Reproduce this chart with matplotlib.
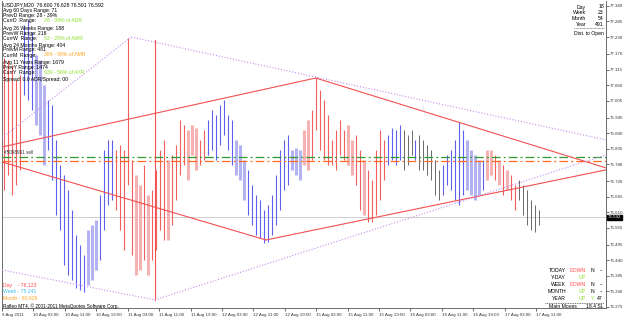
import matplotlib
matplotlib.use("Agg")
import matplotlib.pyplot as plt
import numpy as np

W, H = 625, 319
plt.rcParams['font.family'] = ['Liberation Sans', 'DejaVu Sans']

# ---------------- data ----------------
hours = np.linspace(0.6, 136.8, 135)   # trading hours since 9 Aug 2011 19:00 (chart time)

highs = [77.156, 77.149, 77.131, 77.078, 77.096, 77.273, 77.290, 77.248, 77.166, 77.149,
         77.060, 77.007, 76.990, 76.866, 76.777, 76.742, 76.689, 76.618, 76.530, 76.494,
         76.459, 76.547, 76.565, 76.583, 76.671, 76.830, 76.866, 76.866, 76.830, 76.848,
         76.830, 77.227, 76.795, 76.742, 76.706, 76.777, 76.671, 76.689, 76.760, 76.830,
         76.866, 76.795, 76.813, 76.848, 76.936, 76.919, 76.901, 76.919, 76.908, 76.866,
         76.901, 76.936, 76.972, 76.954, 76.990, 77.007, 76.954, 76.936, 76.866, 76.848,
         76.795, 76.760, 76.706, 76.671, 76.653, 76.618, 76.636, 76.671, 76.742, 76.830,
         76.866, 76.883, 76.830, 76.837, 76.830, 76.901, 76.936, 76.972, 77.085, 77.043,
         77.007, 76.954, 76.866, 76.901, 76.936, 76.901, 76.919, 76.866, 76.883, 76.830,
         76.795, 76.760, 76.724, 76.830, 76.901, 76.866, 76.883, 76.908, 76.901, 76.919,
         76.901, 76.883, 76.901, 76.866, 76.883, 76.866, 76.848, 76.830, 76.795, 76.760,
         76.777, 76.813, 76.830, 76.866, 76.929, 76.901, 76.866, 76.830, 76.813, 76.795,
         76.795, 76.830, 76.830, 76.813, 76.795, 76.777, 76.760, 76.742, 76.706, 76.724,
         76.706, 76.689, 76.653, 76.636, 76.618]

lows = [76.689, 76.742, 76.671, 76.706, 76.760, 77.025, 77.007, 76.972, 76.919, 76.883,
        76.777, 76.830, 76.724, 76.600, 76.547, 76.423, 76.388, 76.370, 76.342, 76.335,
        76.328, 76.353, 76.370, 76.406, 76.441, 76.547, 76.636, 76.653, 76.618, 76.547,
        76.476, 76.706, 76.459, 76.388, 76.406, 76.441, 76.388, 76.441, 76.476, 76.547,
        76.512, 76.512, 76.565, 76.653, 76.742, 76.777, 76.724, 76.813, 76.760, 76.777,
        76.795, 76.813, 76.830, 76.795, 76.848, 76.883, 76.830, 76.777, 76.742, 76.724,
        76.653, 76.600, 76.565, 76.530, 76.519, 76.501, 76.505, 76.530, 76.565, 76.618,
        76.689, 76.706, 76.760, 76.742, 76.724, 76.777, 76.760, 76.795, 76.901, 76.830,
        76.795, 76.777, 76.777, 76.760, 76.813, 76.795, 76.777, 76.742, 76.706, 76.618,
        76.600, 76.576, 76.576, 76.600, 76.653, 76.724, 76.777, 76.795, 76.777, 76.795,
        76.760, 76.777, 76.813, 76.795, 76.760, 76.760, 76.742, 76.724, 76.671, 76.653,
        76.671, 76.706, 76.689, 76.653, 76.636, 76.671, 76.689, 76.671, 76.653, 76.671,
        76.689, 76.724, 76.742, 76.724, 76.706, 76.671, 76.689, 76.653, 76.618, 76.653,
        76.600, 76.565, 76.547, 76.540, 76.565]

trend = ("r r r r r b b b lb lb "
         "lb b b b b b b b b b "
         "b lb lb lb b b b b r r "
         "r r r p p r p r r r "
         "r p r r r r p p p r "
         "r b b b b b b b lb lb "
         "lb b b b b b b b b b "
         "b b lb lb lb p p r r r "
         "r r r r r r p p r r "
         "p r r r r r b b b b "
         "k k k b k k k k k k "
         "b b b b b b lb lb lb lb "
         "b p p r p r p r r k "
         "k k k k k").split()

# trend lines (hour, price)
red_lines = [((0.0, 76.841), (79.9, 77.085)),
             ((79.9, 77.085), (153.8, 76.767)),
             ((0.0, 76.788), (67.2, 76.512)),
             ((67.2, 76.512), (153.8, 76.760))]
red_vertical = (38.9, 76.300, 77.220)
purple_lines = [((0.0, 76.873), (32.9, 77.230)),
                ((32.9, 77.230), (153.8, 76.866)),
                ((0.0, 76.406), (38.9, 76.300)),
                ((38.9, 76.300), (153.8, 76.813))]
order_green = 76.806
order_orange = 76.791
bid = 76.592

xtick_hours = list(range(0, 137, 8))
xtick_labels = ["9 Aug 2011", "10 Aug 03:00", "10 Aug 11:00", "10 Aug 19:00", "11 Aug 03:00",
                "11 Aug 11:00", "11 Aug 19:00", "12 Aug 03:00", "12 Aug 11:00", "12 Aug 19:00",
                "15 Aug 03:00", "15 Aug 11:00", "15 Aug 19:00", "16 Aug 03:00", "16 Aug 11:00",
                "16 Aug 19:00", "17 Aug 03:00", "17 Aug 11:00"]
ytick_labels = ["77.340", "77.285", "77.230", "77.170", "77.115", "77.060", "77.005", "76.945",
                "76.890", "76.835", "76.780", "76.720", "76.665", "76.610", "76.555", "76.495",
                "76.440", "76.385", "76.330", "76.275"]

assert len(highs) == len(lows) == len(trend) == len(hours)

# ---------------- figure ----------------
fig = plt.figure(figsize=(W / 100, H / 100), dpi=100)
fig.patch.set_facecolor('white')
ax = fig.add_axes([2 / W, 11 / H, 604 / W, 307 / H])
ax.set_xlim(0.38, 153.8)
ax.set_ylim(76.2713, 77.3575)

cmap = {'r': '#f35d5d', 'p': '#f6b2b2', 'b': '#5f5ff0', 'lb': '#b3b3f2', 'k': '#6a6a6a'}
wmap = {'r': 0.8, 'p': 2.2, 'b': 0.8, 'lb': 2.2, 'k': 0.7}
hours_a = np.asarray(hours)
hi = np.asarray(highs); lo = np.asarray(lows)
for group in [('p', 'lb'), ('r', 'b', 'k')]:
    for c in group:
        m = np.array([t == c for t in trend])
        if m.any():
            ax.vlines(hours_a[m], lo[m], hi[m], colors=cmap[c], linewidths=wmap[c], zorder=2)

# horizontal lines
ax.axhline(bid, color='#c8c8c8', lw=0.6, zorder=1)
ax.axhline(order_green, color='#2f9a2f', lw=0.9, ls=(0, (7, 2.5, 1.5, 2.5)), zorder=3)
ax.axhline(order_orange, color='#ff6a20', lw=0.9, ls=(0, (7, 2.5, 1.5, 2.5)), zorder=3)

for (x0, y0), (x1, y1) in red_lines:
    ax.plot([x0, x1], [y0, y1], color='#f25050', lw=0.8, zorder=4)
ax.plot([red_vertical[0]] * 2, red_vertical[1:], color='#f25050', lw=0.8, zorder=4)
for (x0, y0), (x1, y1) in purple_lines:
    ax.plot([x0, x1], [y0, y1], color='#c48cf0', lw=0.8, ls=(0, (1, 1.6)), zorder=4)

ax.text(0.6, order_green + 0.008, "#5098961 sell", fontsize=3.3, color='#333333',
        va='bottom', ha='left', zorder=5)

# axes styling
ax.spines['top'].set_visible(False)
for s in ['left', 'right', 'bottom']:
    ax.spines[s].set_color('#555555')
    ax.spines[s].set_linewidth(0.6)
ax.yaxis.tick_right()
ax.set_yticks([float(v) for v in ytick_labels])
ax.set_yticklabels(ytick_labels)
ax.set_xticks(xtick_hours)
ax.set_xticklabels(xtick_labels, ha='left')
ax.tick_params(axis='y', length=2, width=0.5, pad=1, labelsize=3.2, colors='#333333')
ax.tick_params(axis='x', length=2, width=0.5, pad=1.5, labelsize=3.2, colors='#333333')
ax.set_facecolor('white')

# bid label
ax.text(1.003, bid, "76.592", transform=ax.get_yaxis_transform(), fontsize=3.2, color='white',
        va='center', ha='left',
        bbox=dict(boxstyle='square,pad=0.15', fc='black', ec='black'), zorder=6, clip_on=False)

# ---------------- overlay texts ----------------
def P(x, y):
    return x / W, 1 - y / H

FS = 3.7
GREEN = '#8ee02a'
ORANGE = '#ffa526'
RED = '#ff4a4a'

left_lines = [
    (5, "USDJPY,M20  76.600 76.628 76.591 76.592", None),
    (10.3, "Avg 60 Days Range: 71", None),
    (15.3, "PrevD Range: 28 - 39%", None),
    (20.7, "CurrD  Range:", ("28 - 39% of ADR", GREEN)),
    (28.7, "Avg 26 Weeks Range: 188", None),
    (33.7, "PrevW Range: 218", None),
    (38.5, "CurrW  Range:", ("53 - 28% of AWR", GREEN)),
    (45, "Avg 24 Months Range: 404", None),
    (50, "PrevM Range: 481", None),
    (55, "CurrM  Range:", ("384 - 95% of AMR", ORANGE)),
    (62.7, "Avg 11 Years Range: 1679", None),
    (67.5, "PrevY Range: 1474", None),
    (72.2, "CurrY  Range:", ("939 - 56% of AYR", GREEN)),
    (80, "Spread: 0.0 ADR/Spread: 00", None),
]
for y, s, extra in left_lines:
    fig.text(*P(3, y), s, fontsize=FS, color='black', va='center', ha='left')
    if extra:
        fig.text(*P(44, y), extra[0], fontsize=FS, color=extra[1], va='center', ha='left')

for y, lab, val in [(7, "Day", "18"), (12.5, "Week", "23"), (18, "Month", "54"), (24, "Year", "491")]:
    fig.text(*P(586, y), lab, fontsize=FS, color='black', va='center', ha='right')
    fig.text(*P(604, y), val, fontsize=FS, color='black', va='center', ha='right')
fig.add_artist(plt.Line2D([574 / W, 604 / W], [1 - 28 / H] * 2, color='#444444', lw=0.5, ls=(0, (1, 1))))
fig.text(*P(604, 33), "Dist. to Open", fontsize=FS, color='black', va='center', ha='right')

table = [(271, "TODAY", ("DOWN", RED), ("N", 'black'), "--"),
         (277.5, "Y-DAY", ("UP", GREEN), None, None),
         (284.5, "WEEK", ("DOWN", RED), ("N", 'black'), "--"),
         (291.5, "MONTH", ("UP", GREEN), ("N", 'black'), "--"),
         (298.5, "YEAR", ("UP", GREEN), ("Y", GREEN), "47")]
for y, lab, st, flag, tail in table:
    fig.text(*P(566, y), lab, fontsize=FS, color='black', va='center', ha='right')
    fig.text(*P(586, y), st[0], fontsize=FS, color=st[1], va='center', ha='right')
    if flag:
        fig.text(*P(594, y), flag[0], fontsize=FS, color=flag[1], va='center', ha='right')
    if tail:
        fig.text(*P(603, y), tail, fontsize=FS, color='black', va='center', ha='right')
fig.add_artist(plt.Line2D([545 / W, 604 / W], [1 - 302.5 / H] * 2, color='#444444', lw=0.5, ls=(0, (1.5, 1))))
fig.text(*P(577, 306.5), "Main Moves", fontsize=FS, color='black', va='center', ha='right')
fig.text(*P(604, 306.5), "18.4 SL", fontsize=FS, color='black', va='center', ha='right')

fig.text(*P(3, 285), "Day    - 76.123", fontsize=FS, color=RED, va='center', ha='left')
fig.text(*P(3, 291.5), "Week - 75.241", fontsize=FS, color='#3cc0f0', va='center', ha='left')
fig.text(*P(3, 298.5), "Month - 80.626", fontsize=FS, color=ORANGE, va='center', ha='left')
fig.text(*P(3, 306), "Rafleo MT4, \u00a9 2001-2011 MetaQuotes Software Corp.", fontsize=3.4,
         color='black', va='center', ha='left')

fig.savefig("out.png", dpi=100, facecolor='white')
